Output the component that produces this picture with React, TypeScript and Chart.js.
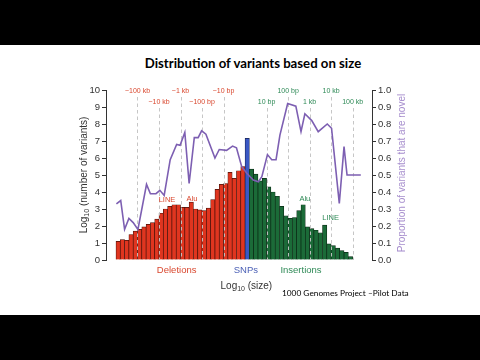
import React, { useEffect, useRef } from "react";
import { Chart, registerables } from "chart.js";

Chart.register(...registerables);

// ---- data ----
const deletionCounts = [1.1, 1.2, 1.15, 1.5, 1.7, 1.8, 1.95, 2.1, 2.2, 2.4, 2.75, 3.0, 3.15, 3.25, 3.25, 3.1, 3.1, 3.4, 3.0, 2.95, 2.9, 3.05, 3.55, 4.15, 4.45, 4.5, 5.15, 4.8, 5.25, 5.5];
const snpCounts = [7.15];
const insertionCounts = [5.35, 5.05, 4.65, 4.8, 4.3, 4.0, 3.75, 3.15, 2.6, 2.45, 2.5, 2.9, 3.25, 1.95, 1.85, 1.75, 1.6, 2.05, 0.95, 0.85, 0.7, 0.55, 0.45, 0.2];

const novelPos = [0.1, 1.1, 2, 3, 4, 5.1, 7.1, 8, 9.3, 10.2, 11.2, 12.6, 14.1, 14.9, 16, 17, 18.2, 19.1, 19.9, 20.9, 23, 24, 25.7, 27.1, 28, 29.2, 30.4, 31.9, 33.1, 33.9, 35.2, 36.2, 37.2, 38.1, 39.9, 41.8, 43, 43.9, 45.5, 47, 49.1, 50.1, 51.9, 53, 53.7, 56.9];
const novelFrac = [0.33, 0.35, 0.18, 0.245, 0.22, 0.18, 0.445, 0.39, 0.39, 0.41, 0.38, 0.59, 0.68, 0.675, 0.75, 0.45, 0.72, 0.72, 0.76, 0.74, 0.6, 0.65, 0.645, 0.67, 0.66, 0.55, 0.51, 0.47, 0.46, 0.49, 0.62, 0.59, 0.59, 0.735, 0.92, 0.905, 0.755, 0.86, 0.82, 0.755, 0.8, 0.775, 0.333, 0.667, 0.5, 0.5];

const deletionMarkLabels = ["~100 kb", "~10 kb", "~1 kb", "~100 bp", "~10 bp"];
const deletionMarkPos = [5, 10, 15, 20, 25];
const deletionMarkRow = [0, 1, 0, 1, 0];
const insertionMarkLabels = ["10 bp", "100 bp", "1 kb", "10 kb", "100 kb"];
const insertionMarkPos = [35, 40, 45, 50, 55];
const insertionMarkRow = [1, 0, 1, 0, 1];

const classLabels = ["Deletions", "SNPs", "Insertions"];
const classPos = [14.1, 30.2, 43];

const repeatLabels = ["LINE", "Alu", "Alu", "LINE"];
const repeatPos = [11.85, 17.65, 43.9, 49.9];
const repeatVal = [3.53, 3.59, 3.59, 2.49];
const repeatIsInsertion = [false, false, true, true];

// ---- styles ----
const FONT = '"Liberation Sans", Arial, sans-serif';
const RED = "#e0351f";
const RED_EDGE = "#4a120a";
const RED_TEXT = "#d9482f";
const GREEN = "#1b6b38";
const GREEN_EDGE = "#0b2a15";
const GREEN_TEXT = "#2f8a57";
const BLUE = "#3a58c4";
const BLUE_EDGE = "#16214d";
const BLUE_TEXT = "#4a5fb5";
const PURPLE = "#7d5fb2";
const PURPLE_TEXT = "#a68dcd";
const AXIS = "#333333";

const nDel = deletionCounts.length;
const nSnp = snpCounts.length;

const barPoints = [
  ...deletionCounts.map((v, i) => ({ x: i + 0.5, y: v })),
  ...snpCounts.map((v, i) => ({ x: nDel + i + 0.5, y: v })),
  ...insertionCounts.map((v, i) => ({ x: nDel + nSnp + i + 0.5, y: v })),
];
const barFill = [
  ...deletionCounts.map(() => RED),
  ...snpCounts.map(() => BLUE),
  ...insertionCounts.map(() => GREEN),
];
const barEdge = [
  ...deletionCounts.map(() => RED_EDGE),
  ...snpCounts.map(() => BLUE_EDGE),
  ...insertionCounts.map(() => GREEN_EDGE),
];

function drawLogTitle(ctx: CanvasRenderingContext2D, cx: number, cy: number, rest: string, color: string, rotate: boolean) {
  ctx.save();
  ctx.translate(cx, cy);
  if (rotate) ctx.rotate(-Math.PI / 2);
  const big = `10px ${FONT}`;
  const small = `7px ${FONT}`;
  ctx.font = big;
  const w1 = ctx.measureText("Log").width;
  const w3 = ctx.measureText(rest).width;
  ctx.font = small;
  const w2 = ctx.measureText("10").width;
  let x = -(w1 + w2 + w3) / 2;
  ctx.textBaseline = "middle";
  ctx.textAlign = "left";
  ctx.fillStyle = color;
  ctx.font = big;
  ctx.fillText("Log", x, 0);
  x += w1;
  ctx.font = small;
  ctx.fillText("10", x, 3);
  x += w2;
  ctx.font = big;
  ctx.fillText(rest, x, 0);
  ctx.restore();
}

const overlay = {
  id: "overlay",
  afterDatasetDraw(chart: any, args: any) {
    if (args.index !== 1) return;
    const { ctx, chartArea } = chart;
    const xs = chart.scales.x;
    const ys = chart.scales.y;
    const rowY = [chartArea.top + 1, chartArea.top + 12];
    ctx.save();
    ctx.strokeStyle = "rgba(195,195,195,0.95)";
    ctx.lineWidth = 1;
    ctx.setLineDash([3.5, 3]);
    const marks = [
      ...deletionMarkPos.map((p, i) => [p, deletionMarkRow[i]]),
      ...insertionMarkPos.map((p, i) => [p, insertionMarkRow[i]]),
    ];
    marks.forEach(([p, r]) => {
      const x = Math.round(xs.getPixelForValue(p)) + 0.5;
      ctx.beginPath();
      ctx.moveTo(x, rowY[r] + 6);
      ctx.lineTo(x, chartArea.bottom);
      ctx.stroke();
    });
    ctx.setLineDash([]);
    ctx.font = `7.5px ${FONT}`;
    ctx.textAlign = "center";
    ctx.textBaseline = "middle";
    repeatLabels.forEach((t, i) => {
      ctx.fillStyle = repeatIsInsertion[i] ? GREEN_TEXT : RED_TEXT;
      ctx.fillText(t, xs.getPixelForValue(repeatPos[i]), ys.getPixelForValue(repeatVal[i]));
    });
    ctx.restore();
  },
  afterDraw(chart: any) {
    const { ctx, chartArea } = chart;
    const xs = chart.scales.x;
    const rowY = [chartArea.top + 1, chartArea.top + 12];
    ctx.save();
    ctx.textAlign = "center";
    ctx.textBaseline = "middle";
    ctx.font = `7px ${FONT}`;
    deletionMarkLabels.forEach((t, i) => {
      ctx.fillStyle = RED_TEXT;
      ctx.fillText(t, xs.getPixelForValue(deletionMarkPos[i]), rowY[deletionMarkRow[i]]);
    });
    insertionMarkLabels.forEach((t, i) => {
      ctx.fillStyle = GREEN_TEXT;
      ctx.fillText(t, xs.getPixelForValue(insertionMarkPos[i]), rowY[insertionMarkRow[i]]);
    });
    ctx.font = `9.5px ${FONT}`;
    const classColors = [RED_TEXT, BLUE_TEXT, GREEN_TEXT];
    classLabels.forEach((t, i) => {
      ctx.fillStyle = classColors[i];
      ctx.fillText(t, xs.getPixelForValue(classPos[i]), chartArea.bottom + 10);
    });
    // axis titles
    drawLogTitle(ctx, 84, (chartArea.top + chartArea.bottom) / 2, " (number of variants)", AXIS, true);
    drawLogTitle(ctx, xs.getPixelForValue(30.3), chartArea.bottom + 26, " (size)", AXIS, false);
    ctx.save();
    ctx.translate(chartArea.right + 30, (chartArea.top + chartArea.bottom) / 2 - 2);
    ctx.rotate(-Math.PI / 2);
    ctx.font = `10px ${FONT}`;
    ctx.fillStyle = PURPLE_TEXT;
    ctx.fillText("Proportion of variants that are novel", 0, 0);
    ctx.restore();
    ctx.restore();
  },
};

export default function App() {
  const ref = useRef<HTMLCanvasElement>(null);
  useEffect(() => {
    const canvas = ref.current;
    if (!canvas) return;
    const chart = new Chart(canvas, {
      type: "bar",
      data: {
        datasets: [
          {
            type: "line",
            data: novelPos.map((x, i) => ({ x, y: novelFrac[i] })),
            xAxisID: "x",
            yAxisID: "y1",
            borderColor: PURPLE,
            borderWidth: 1.6,
            pointRadius: 0,
            tension: 0,
            fill: false,
          } as any,
          {
            type: "bar",
            data: barPoints,
            xAxisID: "x",
            yAxisID: "y",
            backgroundColor: barFill,
            borderColor: barEdge,
            borderWidth: 0.7,
            barPercentage: 1,
            categoryPercentage: 1,
          } as any,
        ],
      },
      options: {
        responsive: false,
        animation: false,
        devicePixelRatio: 1,
        layout: { padding: { left: 0, right: 0, top: 45, bottom: 55 } },
        plugins: {
          legend: { display: false },
          tooltip: { enabled: false },
          title: { display: false },
        },
        scales: {
          x: {
            type: "linear",
            min: -2.32,
            max: 59.5,
            offset: false,
            display: false,
          },
          y: {
            position: "left",
            min: 0,
            max: 10,
            ticks: { stepSize: 1, color: AXIS, font: { family: FONT, size: 9.5 }, padding: 2 },
            grid: { drawOnChartArea: false, drawTicks: true, tickLength: 4, color: AXIS },
            border: { display: true, color: AXIS, width: 1 },
            afterFit: (s: any) => {
              s.width = 106;
            },
          },
          y1: {
            position: "right",
            min: 0,
            max: 1,
            ticks: {
              stepSize: 0.1,
              color: AXIS,
              font: { family: FONT, size: 9.5 },
              padding: 2,
              callback: (v: any) => Number(v).toFixed(1),
            },
            grid: { drawOnChartArea: false, drawTicks: true, tickLength: 4, color: AXIS },
            border: { display: true, color: AXIS, width: 1 },
            afterFit: (s: any) => {
              s.width = 108;
            },
          },
        },
      } as any,
      plugins: [overlay],
    });
    return () => chart.destroy();
  }, []);

  return (
    <div style={{ position: "fixed", left: 0, top: 0, width: 480, height: 360, background: "#000", overflow: "hidden" }}>
      <div style={{ position: "absolute", left: 0, top: 45, width: 480, height: 270, background: "#fff" }}>
        <div
          style={{
            position: "absolute",
            left: 0,
            top: 10,
            width: 506,
            textAlign: "center",
            fontFamily: "Lato, 'Open Sans', sans-serif",
            fontWeight: 700,
            fontSize: 13.2,
            lineHeight: "16px",
            color: "#000",
          }}
        >
          Distribution of variants based on size
        </div>
        <canvas ref={ref} width={480} height={270} style={{ position: "absolute", left: 0, top: 0, width: 480, height: 270 }} />
        <div
          style={{
            position: "absolute",
            left: 282,
            top: 242,
            fontFamily: "Lato, 'Open Sans', sans-serif",
            fontSize: 8.3,
            lineHeight: "12px",
            color: "#000",
            whiteSpace: "nowrap",
          }}
        >
          1000 Genomes Project –Pilot Data
        </div>
      </div>
    </div>
  );
}
